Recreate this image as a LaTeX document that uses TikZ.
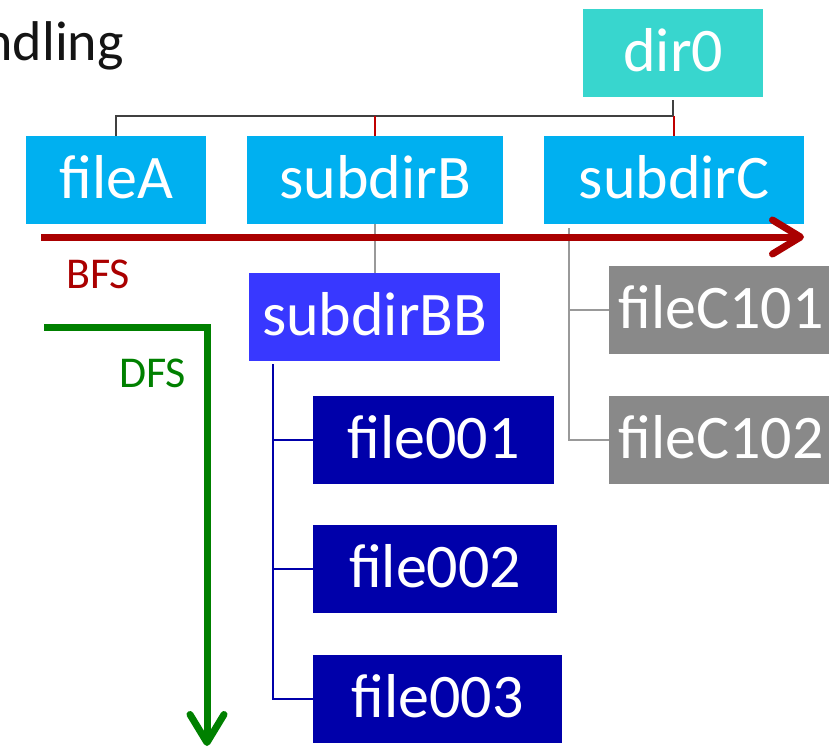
\documentclass[tikz,border=0pt]{standalone}
\usepackage{fontspec}
\setmainfont{Carlito}
\usetikzlibrary{arrows.meta,calc}
\definecolor{cturq}{HTML}{38D6CE}
\definecolor{csky}{HTML}{00B0F0}
\definecolor{cmid}{HTML}{3838FF}
\definecolor{cnavy}{HTML}{0000AA}
\definecolor{cgreybox}{HTML}{898989}
\definecolor{cbfs}{HTML}{AA0000}
\definecolor{cdfs}{HTML}{008000}
\definecolor{cdark}{HTML}{404040}
\definecolor{cred}{HTML}{C00000}
\definecolor{clight}{HTML}{999999}
\begin{document}
\begin{tikzpicture}[x=1pt,y=-1pt,
  box/.style={inner sep=0pt, minimum width=#1, text height=62pt, text depth=26pt,
    anchor=north west, font=\fontsize{62}{62}\selectfont, text=white},
  darkline/.style={draw=cdark, line width=2.2pt},
  redline/.style={draw=cred, line width=2.2pt},
  lightline/.style={draw=clight, line width=2.2pt},
  navyline/.style={draw=cnavy, line width=2.4pt},
  trav/.style={line width=7pt, -{Straight Barb[length=28pt,width=34pt,round]}},
  lbl/.style={inner sep=0pt, anchor=base west, font=\fontsize{44}{44}\selectfont}
]
\useasboundingbox (0,0) rectangle (829,747);

% title fragment
\node[inner sep=0pt, anchor=base east, text=black!92,
  font=\fontsize{56}{56}\selectfont] (title) at (124,60) {ndling};

% nodes
\node[box=180, fill=cturq] (dir0) at (583,9) {dir0};
\node[box=180, fill=csky] (fileA) at (26,136) {fileA};
\node[box=256, fill=csky] (subdirB) at (247,136) {subdirB};
\node[box=260, fill=csky] (subdirC) at (544,136) {subdirC};
\node[box=251, fill=cmid] (subdirBB) at (249,273) {subdirBB};
\node[box=241, fill=cnavy] (file001) at (313,396) {file001};
\node[box=244, fill=cnavy] (file002) at (313,525) {file002};
\node[box=249, fill=cnavy] (file003) at (313,655) {file003};
\node[box=224, fill=cgreybox] (fileC101) at (609,266) {fileC101};
\node[box=224, fill=cgreybox] (fileC102) at (609,396) {fileC102};

% top-level connectors
\coordinate (busY) at (0,116);
\draw[darkline] ($(dir0.south)+(0,3)$) -- (dir0.south |- busY) -| (fileA.north);
\draw[redline] (subdirB.north) -- (subdirB.north |- busY);
\draw[redline] (subdirC.north) -- (subdirC.north |- busY);

% subdirB -> subdirBB
\draw[lightline] (subdirB.south) -- (subdirB.south |- subdirBB.north);

% subdirBB tree
\coordinate (bbT) at ($(subdirBB.south west)+(24,3)$);
\draw[navyline] (bbT) |- (file003.west);
\draw[navyline] (bbT |- file001.west) -- (file001.west);
\draw[navyline] (bbT |- file002.west) -- (file002.west);

% subdirC tree
\coordinate (cT) at ($(subdirC.south west)+(25,4)$);
\draw[lightline] (cT) |- (fileC102.west);
\draw[lightline] (cT |- fileC101.west) -- (fileC101.west);

% BFS arrow
\coordinate (bfsS) at (41,237);
\coordinate (bfsE) at (804,237);
\draw[trav, draw=cbfs] (bfsS) -- (bfsE);
\node[lbl, text=cbfs] (bfslbl) at (66,288) {BFS};

% DFS arrow
\coordinate (dfsA) at (44,327);
\coordinate (dfsB) at (207,327);
\coordinate (dfsC) at (207,746);
\draw[trav, draw=cdfs, line join=miter] (dfsA) -- (dfsB) -- (dfsC);
\node[lbl, text=cdfs] (dfslbl) at (119,387) {DFS};
\end{tikzpicture}
\end{document}
